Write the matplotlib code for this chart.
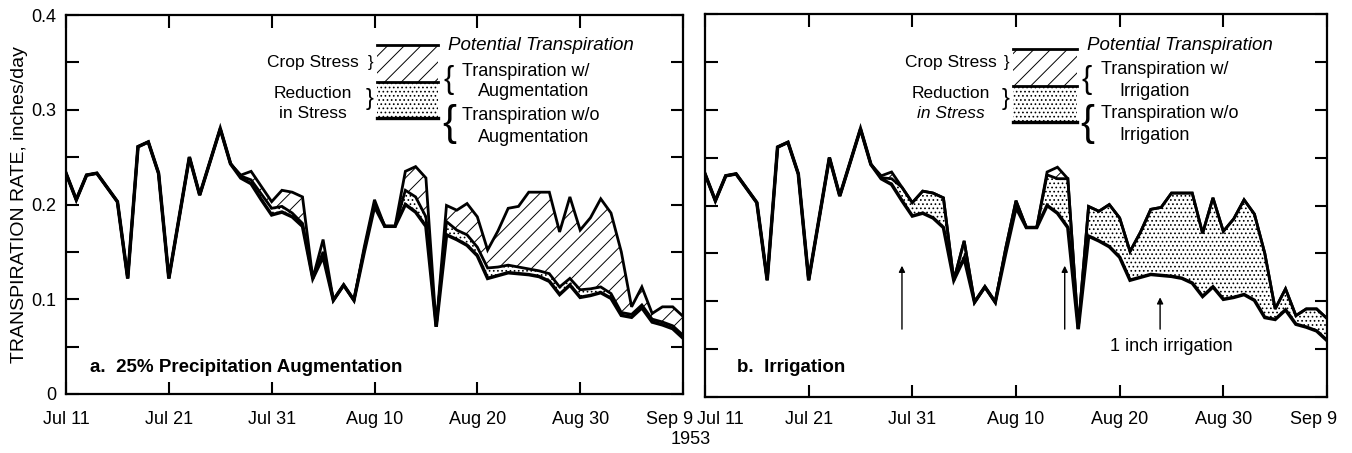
import numpy as np
import matplotlib
matplotlib.use("Agg")
import matplotlib.pyplot as plt
import matplotlib.transforms as mtransforms
from matplotlib.patches import Rectangle
from matplotlib.lines import Line2D

plt.rcParams['font.family'] = ['Liberation Sans', 'DejaVu Sans']
plt.rcParams['hatch.linewidth'] = 0.7

# daily values, Jul 11 (day 0) to Sep 9 (day 60), 1953, inches/day
potential = [0.233, 0.205, 0.231, 0.233, 0.218, 0.203, 0.122, 0.261, 0.266, 0.233,
             0.122, 0.186, 0.250, 0.210, 0.245, 0.280, 0.243, 0.231, 0.235, 0.219,
             0.203, 0.215, 0.213, 0.208, 0.122, 0.163, 0.099, 0.115, 0.099, 0.155,
             0.205, 0.177, 0.177, 0.235, 0.240, 0.228, 0.071, 0.199, 0.194, 0.201,
             0.187, 0.152, 0.172, 0.196, 0.198, 0.213, 0.213, 0.213, 0.171, 0.208,
             0.173, 0.186, 0.206, 0.191, 0.150, 0.092, 0.113, 0.085, 0.092, 0.092,
             0.082]
with_augmentation = [0.233, 0.205, 0.231, 0.233, 0.218, 0.203, 0.122, 0.261, 0.266, 0.233,
                     0.122, 0.186, 0.250, 0.210, 0.245, 0.280, 0.243, 0.230, 0.226, 0.211,
                     0.196, 0.198, 0.191, 0.180, 0.122, 0.150, 0.099, 0.115, 0.099, 0.152,
                     0.201, 0.177, 0.177, 0.215, 0.208, 0.187, 0.071, 0.182, 0.173, 0.168,
                     0.155, 0.133, 0.134, 0.136, 0.134, 0.132, 0.130, 0.127, 0.113, 0.122,
                     0.110, 0.111, 0.113, 0.106, 0.086, 0.084, 0.094, 0.079, 0.076, 0.072,
                     0.062]
with_irrigation = [0.233, 0.205, 0.231, 0.233, 0.218, 0.203, 0.122, 0.261, 0.266, 0.233,
                   0.122, 0.186, 0.250, 0.210, 0.245, 0.280, 0.243, 0.229, 0.228, 0.219,
                   0.203, 0.215, 0.213, 0.208, 0.122, 0.163, 0.099, 0.115, 0.099, 0.155,
                   0.205, 0.177, 0.177, 0.232, 0.228, 0.228, 0.071, 0.199, 0.194, 0.201,
                   0.187, 0.152, 0.172, 0.196, 0.198, 0.213, 0.213, 0.213, 0.171, 0.208,
                   0.173, 0.186, 0.206, 0.191, 0.150, 0.092, 0.113, 0.085, 0.092, 0.092,
                   0.082]
without = [0.233, 0.205, 0.231, 0.233, 0.218, 0.203, 0.122, 0.261, 0.266, 0.233,
           0.122, 0.186, 0.250, 0.210, 0.245, 0.280, 0.243, 0.228, 0.222, 0.205,
           0.189, 0.192, 0.187, 0.177, 0.122, 0.145, 0.099, 0.115, 0.099, 0.150,
           0.198, 0.177, 0.177, 0.200, 0.192, 0.177, 0.071, 0.168, 0.163, 0.157,
           0.146, 0.122, 0.125, 0.128, 0.127, 0.126, 0.124, 0.119, 0.105, 0.115,
           0.102, 0.104, 0.107, 0.101, 0.083, 0.081, 0.091, 0.076, 0.073, 0.069,
           0.059]
xtick_days = [0, 10, 20, 30, 40, 50, 60]
xtick_labels = ['Jul 11', 'Jul 21', 'Jul 31', 'Aug 10', 'Aug 20', 'Aug 30', 'Sep 9']
ytick_vals = [0, 0.1, 0.2, 0.3, 0.4]
ytick_labels = ['0', '0.1', '0.2', '0.3', '0.4']
irrigation_days = [19.0, 34.7, 43.9]

W, H = 1352, 453
fig = plt.figure(figsize=(W / 100, H / 100), dpi=100)


def box(l, t, r, b):
    return [l / W, 1 - b / H, (r - l) / W, (b - t) / H]


def P(x, y):
    return x / W, 1 - y / H


axa = fig.add_axes(box(66, 15, 683, 394))
axb = fig.add_axes(box(705, 14, 1327, 397))


def draw_panel(ax, mid):
    x = np.arange(len(potential))
    ax.fill_between(x, mid, potential, facecolor='white', edgecolor='black',
                    hatch='//', linewidth=0)
    ax.fill_between(x, without, mid, facecolor='white', edgecolor='black',
                    hatch='....', linewidth=0)
    ax.plot(x, potential, color='black', lw=2.0, solid_joinstyle='miter')
    ax.plot(x, mid, color='black', lw=2.0, solid_joinstyle='miter')
    ax.plot(x, without, color='black', lw=2.5, solid_joinstyle='miter')
    ax.set_xlim(0, 60)
    ax.set_ylim(0, 0.4)
    ax.set_xticks(xtick_days)
    ax.set_xticklabels(xtick_labels)
    ax.set_yticks(ytick_vals)
    ax.set_yticks(np.arange(0.05, 0.4, 0.1), minor=True)
    ax.set_yticklabels(ytick_labels)
    ax.tick_params(which='both', direction='in', top=True, right=True,
                   length=9, width=1.5, labelsize=13)
    ax.tick_params(axis='x', pad=12)
    ax.tick_params(axis='y', pad=7)
    for s in ax.spines.values():
        s.set_linewidth(1.6)


draw_panel(axa, with_augmentation)
draw_panel(axb, with_irrigation)
axb.tick_params(labelleft=False)
axb.tick_params(axis='x', pad=10)

# shift crowded end labels apart
axa.get_xticklabels()[-1].set_transform(
    axa.get_xticklabels()[-1].get_transform() + mtransforms.ScaledTranslation(-0.13, 0, fig.dpi_scale_trans))
axb.get_xticklabels()[-1].set_transform(
    axb.get_xticklabels()[-1].get_transform() + mtransforms.ScaledTranslation(-0.13, 0, fig.dpi_scale_trans))
axb.get_xticklabels()[0].set_transform(
    axb.get_xticklabels()[0].get_transform() + mtransforms.ScaledTranslation(0.15, 0, fig.dpi_scale_trans))

axa.set_ylabel('TRANSPIRATION RATE, inches/day', fontsize=14)
axa.yaxis.set_label_coords(-0.061, 0.5)

axa.text(0.039, 0.071, 'a.  25% Precipitation Augmentation', transform=axa.transAxes,
         fontsize=13.5, fontweight='bold', va='center', ha='left')
axb.text(0.051, 0.076, 'b.  Irrigation', transform=axb.transAxes,
         fontsize=13.5, fontweight='bold', va='center', ha='left')

# irrigation arrows
for i, d in enumerate(irrigation_days):
    top = 0.107 if i == 2 else 0.140
    axb.annotate('', xy=(d, top), xytext=(d, 0.068),
                 arrowprops=dict(arrowstyle='-|>', color='black', lw=1.0, mutation_scale=9))
axb.text(45.0, 0.053, '1 inch irrigation', fontsize=13, ha='center', va='center')

fig.text(*P(691, 440), '1953', fontsize=13, ha='center', va='center')


def legend(sw, left_x, brace_x, text_x, sub_x, word, ys, italic_stress):
    l, r, t, m, b = sw
    fig.add_artist(Rectangle(P(l, m), (r - l) / W, (m - t) / H, transform=fig.transFigure,
                             facecolor='white', edgecolor='black', hatch='//', lw=0))
    fig.add_artist(Rectangle(P(l, b), (r - l) / W, (b - m) / H, transform=fig.transFigure,
                             facecolor='white', edgecolor='black', hatch='....', lw=0))
    for yy, w in [(t, 2.0), (m, 2.0), (b, 2.4)]:
        fig.add_artist(Line2D([l / W, r / W], [1 - yy / H, 1 - yy / H], color='black',
                              lw=w, transform=fig.transFigure))
    fig.text(*P(left_x, 62), 'Crop Stress', fontsize=12.5, ha='center', va='center')
    fig.text(*P(left_x, 93), 'Reduction', fontsize=12.5, ha='center', va='center')
    fig.text(*P(left_x, 113), 'in Stress', fontsize=12.5, ha='center', va='center',
             style='italic' if italic_stress else 'normal')
    fig.text(*P(l - 7, 63), '}', fontsize=12, ha='center', va='center')
    fig.text(*P(l - 7, 99), '}', fontsize=17, ha='center', va='center')
    fig.text(*P(text_x - 2, ys[0]), 'Potential Transpiration', fontsize=13.5, style='italic',
             ha='left', va='center')
    fig.text(*P(brace_x, 80), '{', fontsize=22, ha='center', va='center')
    fig.text(*P(text_x + 12, ys[1]), 'Transpiration w/', fontsize=13, ha='left', va='center')
    fig.text(*P(sub_x, ys[2]), word, fontsize=13, ha='center', va='center')
    fig.text(*P(brace_x, 124), '{', fontsize=30, ha='center', va='center')
    fig.text(*P(text_x + 12, ys[3]), 'Transpiration w/o', fontsize=13, ha='left', va='center')
    fig.text(*P(sub_x, ys[4]), word, fontsize=13, ha='center', va='center')


legend((377, 438, 45, 82, 118), 313, 449, 450, 534, 'Augmentation',
       [45, 72, 92, 115, 138], False)
legend((1013, 1077, 49, 86, 122), 951, 1087, 1089, 1155, 'Irrigation',
       [45, 70, 92, 114, 136], True)

fig.savefig('out.png', dpi=100)
